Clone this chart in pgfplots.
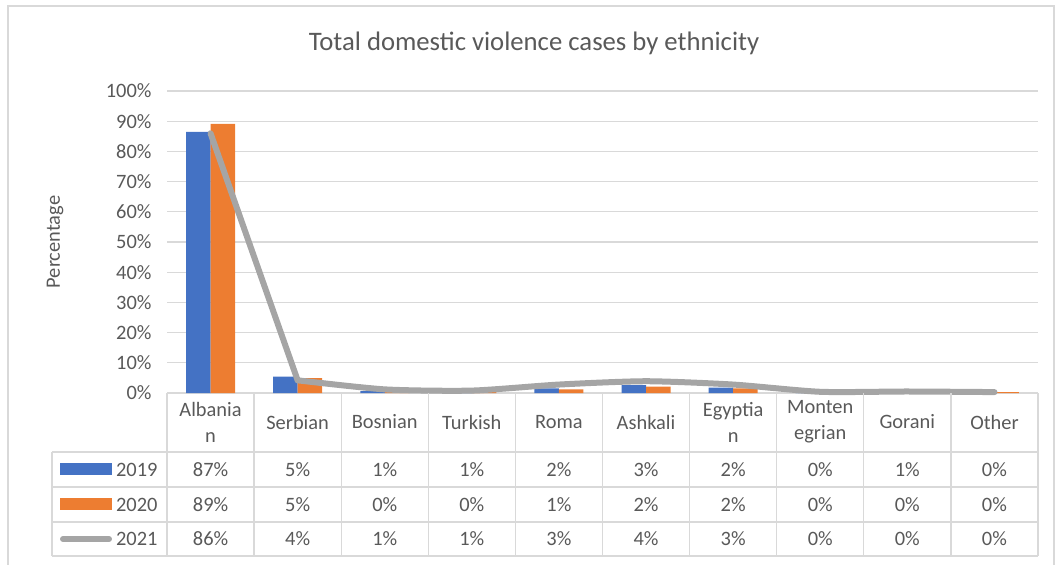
\documentclass[border=0pt]{standalone}
\usepackage{pgfplots}
\pgfplotsset{compat=1.18}
\usepackage{pgfplotstable}
\usepackage{fontspec}
\setmainfont{Carlito}
\definecolor{txt}{HTML}{595959}
\definecolor{gridc}{HTML}{D9D9D9}
\definecolor{c19}{HTML}{4472C4}
\definecolor{c20}{HTML}{ED7D31}
\definecolor{c21}{HTML}{A5A5A5}

% shares by ethnicity (percent), categories at 0..9
\pgfplotstableread{
x y19 y20 y21
0 86.5 89.1 86.0
1 5.4 4.9 4.2
2 0.6 0.4 1.2
3 0.5 0.3 0.8
4 1.5 1.2 2.8
5 2.6 2.1 3.9
6 1.8 1.5 2.8
7 0.2 0.2 0.4
8 0.6 0.3 0.5
9 0.2 0.3 0.3
}\datatable

\begin{document}
\begin{tikzpicture}[font=\fontsize{20.5}{26}\selectfont, text=txt]
\useasboundingbox (0,0) rectangle (1062bp,-565bp);
\begin{axis}[
  at={(167bp,-393bp)}, anchor=south west,
  scale only axis, width=871bp, height=302bp,
  xmin=-0.5, xmax=9.5, ymin=0, ymax=100,
  axis line style={draw=none},
  ytick={0,10,...,100},
  xtick=\empty,
  ymajorgrids,
  major grid style={gridc, line width=1.3bp},
  major tick length=0pt,
  yticklabel={\pgfmathprintnumber{\tick}\%},
  yticklabel style={text=txt, xshift=-12bp},
  /pgf/number format/assume math mode=true,
  tick label style={font=\fontsize{20.5}{24}\selectfont},
  clip=false,
]
  \addplot[ybar, bar width=24.5bp, bar shift=-12.25bp, fill=c19, draw=none]
    table[x=x, y=y19] {\datatable};
  \addplot[ybar, bar width=24.5bp, bar shift=12.25bp, fill=c20, draw=none]
    table[x=x, y=y20] {\datatable};
  % 2021 line: straight drop to Serbian, then smoothed
  \addplot[c21, line width=6bp, sharp plot, line join=round, line cap=round, mark=none,
    restrict x to domain=0:1]
    table[x=x, y=y21] {\datatable};
  \addplot[c21, line width=6bp, smooth, tension=0.4, line join=round, line cap=round, mark=none,
    restrict x to domain=1:9]
    table[x=x, y=y21] {\datatable};
\end{axis}

\begin{scope}[x=1bp, y=-1bp]
  % chart frame
  \draw[gridc, line width=1.3] (8,580) -- (8,6) -- (1054,6) -- (1054,580);
  % title and y label
  \node[font=\fontsize{26.8}{30}\selectfont] at (534,43) {Total domestic violence cases by ethnicity};
  \node[rotate=90] at (55,242) {Percentage};

  % data table grid
  \foreach \i in {0,...,10}
    \draw[gridc, line width=1.3] ({167+\i*87.1},393) -- ({167+\i*87.1},556);
  \foreach \yy in {452,487,522,556}
    \draw[gridc, line width=1.3] (52,\yy) -- (1038,\yy);
  \draw[gridc, line width=1.3] (52,452) -- (52,556);

  % category names
  \foreach \lab [count=\i from 0] in {{Albania\\n},Serbian,Bosnian,Turkish,Roma,Ashkali,{Egyptia\\n},{Monten\\egrian},Gorani,Other}
    \node[align=center] at ({210.55+\i*87.1},422) {\lab};

  % row keys
  \fill[c19] (60,463) rectangle (112,475);
  \fill[c20] (60,498) rectangle (112,510);
  \draw[c21, line width=6, line cap=round] (63,539) -- (109,539);
  \node[anchor=east] at (161,470) {2019};
  \node[anchor=east] at (161,505) {2020};
  \node[anchor=east] at (161,539) {2021};

  % row values
  \foreach \v [count=\i from 0] in {87,5,1,1,2,3,2,0,1,0}
    \node at ({210.55+\i*87.1},470) {\v\%};
  \foreach \v [count=\i from 0] in {89,5,0,0,1,2,2,0,0,0}
    \node at ({210.55+\i*87.1},505) {\v\%};
  \foreach \v [count=\i from 0] in {86,4,1,1,3,4,3,0,0,0}
    \node at ({210.55+\i*87.1},539) {\v\%};
\end{scope}
\end{tikzpicture}
\end{document}
